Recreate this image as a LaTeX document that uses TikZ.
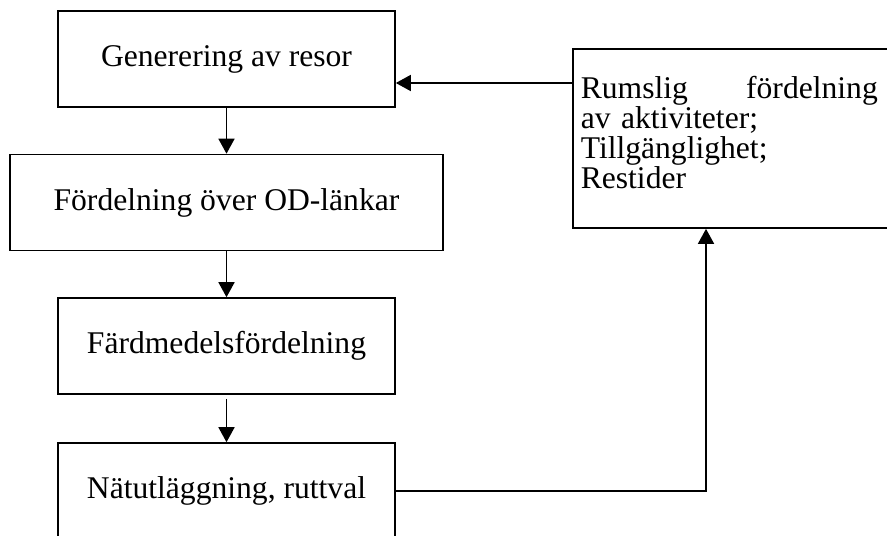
\documentclass[tikz,border=0pt]{standalone}
\usepackage{fontspec}
\setmainfont{Liberation Serif}
\usetikzlibrary{arrows.meta,positioning}

\begin{document}
\begin{tikzpicture}[
    x=0.5pt,y=-0.5pt,
    box/.style={rectangle,draw,line width=0.8pt,align=center,minimum width=168.5pt,minimum height=48pt,font=\fontsize{15.8}{15}\selectfont,inner sep=0pt},
    sidebox/.style={rectangle,draw,line width=0.8pt,align=left,text width=156pt,font=\fontsize{15.8}{15}\selectfont,inner xsep=4pt,inner ysep=13.5pt},
    link/.style={line width=0.8pt},
    >={Triangle[length=7.5pt,width=8pt]}]
    \useasboundingbox (0,0) rectangle (887,535);
    \clip (0,0) rectangle (887,535);
    \node[box] (gen) at (226.5,59) {Generering av resor};
    \node[box,minimum width=216.5pt] (od) at (226.5,202.5) {Fördelning över OD-länkar};
    \node[box] (mode) at (226.5,346) {Färdmedelsfördelning};
    \node[box] (net) at (226.5,491) {Nätutläggning, ruttval};
    % land use box, cut off at the right edge
    \node[sidebox,anchor=north west] (land) at (572,48) {\makebox[148.5pt]{Rumslig\hfill fördelning}\\av aktiviteter;\\Tillgänglighet;\\Restider\rule[-6.5pt]{0pt}{0pt}};
    \draw[link,->] (gen) -- (od);
    \draw[link,->] (od) -- (mode);
    \draw[link,->] ([yshift=-2pt]mode.south) -- (net);
    \draw[link,->] (net.east) -| ([xshift=67pt]land.south west);
    \draw[link,->] (land.west |- 0,83) -- (gen.east |- 0,83);
\end{tikzpicture}
\end{document}
